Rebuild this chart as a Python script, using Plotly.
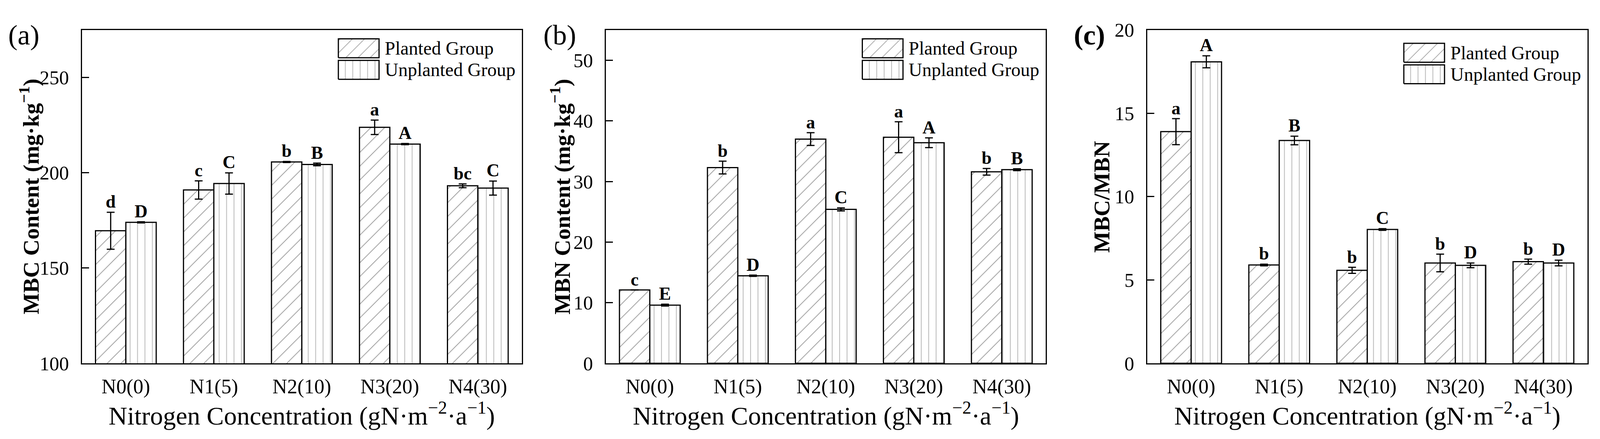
import plotly.graph_objects as go
from plotly.subplots import make_subplots

# categories
groups = ['N0(0)', 'N1(5)', 'N2(10)', 'N3(20)', 'N4(30)']

# (a) MBC content
mbc_planted = [169.6, 191.0, 205.7, 223.9, 193.2]
mbc_planted_err = [9.7, 4.8, 0.3, 3.8, 1.0]
mbc_unplanted = [174.0, 194.4, 204.4, 215.1, 192.0]
mbc_unplanted_err = [0.3, 5.6, 0.7, 0.3, 3.7]
mbc_planted_sig = ['d', 'c', 'b', 'a', 'bc']
mbc_unplanted_sig = ['D', 'C', 'B', 'A', 'C']

# (b) MBN content
mbn_planted = [12.1, 32.3, 37.0, 37.3, 31.6]
mbn_planted_err = [0.0, 1.05, 1.05, 2.55, 0.55]
mbn_unplanted = [9.6, 14.45, 25.4, 36.4, 31.95]
mbn_unplanted_err = [0.15, 0.1, 0.25, 0.8, 0.15]
mbn_planted_sig = ['c', 'b', 'a', 'a', 'b']
mbn_unplanted_sig = ['E', 'D', 'C', 'A', 'B']

# (c) MBC/MBN ratio
ratio_planted = [13.9, 5.9, 5.58, 6.02, 6.1]
ratio_planted_err = [0.78, 0.05, 0.18, 0.53, 0.15]
ratio_unplanted = [18.09, 13.37, 8.03, 5.88, 6.02]
ratio_unplanted_err = [0.36, 0.26, 0.05, 0.14, 0.17]
ratio_planted_sig = ['a', 'b', 'b', 'b', 'b']
ratio_unplanted_sig = ['A', 'B', 'C', 'D', 'D']

FONT = 'Times New Roman, Liberation Serif, serif'
W, H = 4231, 1125  # reference size, used to turn pixel measurements into paper fractions
BARGAP = 0.31
HATCH = '#444444'

panels = [
    dict(tag='(a)', bold_tag=False, ytitle='MBC Content (mg·kg<sup>−1</sup>)', yrange=[100, 275], dtick=50,
         planted=(mbc_planted, mbc_planted_err, mbc_planted_sig),
         unplanted=(mbc_unplanted, mbc_unplanted_err, mbc_unplanted_sig),
         xdom=[209 / W, 1377 / W], legend_top=68),
    dict(tag='(b)', bold_tag=False, ytitle='MBN Content (mg·kg<sup>−1</sup>)', yrange=[0, 55], dtick=10,
         planted=(mbn_planted, mbn_planted_err, mbn_planted_sig),
         unplanted=(mbn_unplanted, mbn_unplanted_err, mbn_unplanted_sig),
         xdom=[1600 / W, 2768 / W], legend_top=68),
    dict(tag='(c)', bold_tag=True, ytitle='MBC/MBN', yrange=[0, 20], dtick=5,
         planted=(ratio_planted, ratio_planted_err, ratio_planted_sig),
         unplanted=(ratio_unplanted, ratio_unplanted_err, ratio_unplanted_sig),
         xdom=[3037 / W, 4206 / W], legend_top=80),
]

PLOT_TOP, PLOT_BOTTOM = 44, 943
ydom = [1 - PLOT_BOTTOM / H, 1 - PLOT_TOP / H]

fig = make_subplots(rows=1, cols=3)
xs = list(range(len(groups)))
half = (1 - BARGAP) / 4  # offset of each bar centre from the category centre

for i, p in enumerate(panels):
    col = i + 1
    for key, shape, sign in [('planted', '/', -1), ('unplanted', '|', 1)]:
        vals, errs, sig = p[key]
        fig.add_trace(go.Bar(
            x=xs, y=vals, offsetgroup=key,
            marker=dict(color='white', line=dict(color='black', width=3),
                        pattern=dict(shape=shape, size=25 if shape == '/' else 19,
                                     solidity=0.08, fgcolor=HATCH, bgcolor='white')),
            error_y=dict(type='data', array=errs, color='black', thickness=3, width=10),
            showlegend=False,
        ), row=1, col=col)
        fig.add_trace(go.Scatter(
            x=[x + sign * half for x in xs], y=[v + e for v, e in zip(vals, errs)],
            mode='text', text=sig, textposition='top center',
            textfont=dict(family=FONT, size=46, color='black', weight='bold'),
            showlegend=False, cliponaxis=False,
        ), row=1, col=col)

    sfx = '' if i == 0 else str(col)
    fig.layout['xaxis' + sfx].update(
        domain=p['xdom'], range=[-0.5, len(groups) - 0.5], tickvals=xs, ticktext=groups,
        showline=True, linecolor='black', linewidth=3, mirror=True, ticks='',
        showgrid=False, zeroline=False, ticklabelstandoff=12,
        tickfont=dict(family=FONT, size=52, color='black'),
    )
    fig.layout['yaxis' + sfx].update(
        domain=ydom, range=p['yrange'], dtick=p['dtick'],
        showline=True, linecolor='black', linewidth=3, mirror=True,
        ticks='inside', ticklen=18, tickwidth=3, tickcolor='black',
        showgrid=False, zeroline=False, ticklabelstandoff=20,
        tickfont=dict(family=FONT, size=50, color='black'),
    )

    # legend drawn as patterned boxes on an invisible overlay axis
    ov = str(col + 3)
    fig.layout['xaxis' + ov] = dict(overlaying='x' + sfx, range=[0, 1], visible=False, anchor='y' + ov)
    fig.layout['yaxis' + ov] = dict(overlaying='y' + sfx, range=[0, 1], visible=False, anchor='x' + ov)
    dom_w = (p['xdom'][1] - p['xdom'][0]) * W
    plot_h = PLOT_BOTTOM - PLOT_TOP
    bx0 = 0.583
    bx1 = bx0 + 108 / dom_w
    for j, (label, shape) in enumerate([('Planted Group', '/'), ('Unplanted Group', '|')]):
        top_px = p['legend_top'] + j * 58 - PLOT_TOP
        y1 = 1 - top_px / plot_h
        y0 = 1 - (top_px + 51) / plot_h
        fig.add_trace(go.Scatter(
            x=[bx0, bx1, bx1, bx0, bx0], y=[y0, y0, y1, y1, y0],
            mode='lines', fill='toself', fillcolor='white',
            fillpattern=dict(shape=shape, size=22 if shape == '/' else 19, solidity=0.08,
                             fgcolor=HATCH, bgcolor='white'),
            line=dict(color='black', width=3), hoverinfo='skip', showlegend=False,
            xaxis='x' + ov, yaxis='y' + ov,
        ))
        fig.add_annotation(
            x=bx1 + 13 / dom_w, y=(y0 + y1) / 2, xref='x' + ov, yref='y' + ov,
            text=label, showarrow=False, xanchor='left', yanchor='middle',
            font=dict(family=FONT, size=48, color='black'),
        )

    xc = (p['xdom'][0] + p['xdom'][1]) / 2
    fig.add_annotation(
        x=xc, y=1 - 1080 / H, xref='paper', yref='paper', showarrow=False,
        text='Nitrogen Concentration (gN·m<sup>−2</sup>·a<sup>−1</sup>)',
        xanchor='center', yanchor='middle', font=dict(family=FONT, size=66, color='black'),
    )
    fig.add_annotation(
        x=p['xdom'][0] - (139 if i == 0 else 120) / W, y=(ydom[0] + ydom[1]) / 2,
        xref='paper', yref='paper', showarrow=False, textangle=-90,
        text=p['ytitle'], xanchor='center', yanchor='middle',
        font=dict(family=FONT, size=58, color='black', weight='bold'),
    )

tag_x = [55, 1478, 2884]
for p, tx in zip(panels, tag_x):
    fig.add_annotation(
        x=tx / W, y=1 - 58 / H, xref='paper', yref='paper', showarrow=False,
        text=p['tag'], xanchor='center', yanchor='middle',
        font=dict(family=FONT, size=72, color='black', weight='bold' if p['bold_tag'] else 'normal'),
    )

# width is left to the page so that the whole figure fits the window
fig.update_layout(
    height=H, autosize=True, barmode='group', bargap=BARGAP, bargroupgap=0,
    margin=dict(l=0, r=0, t=0, b=0),
    plot_bgcolor='white', paper_bgcolor='white',
    font=dict(family=FONT, color='black'),
)

fig.write_html('out.html')
